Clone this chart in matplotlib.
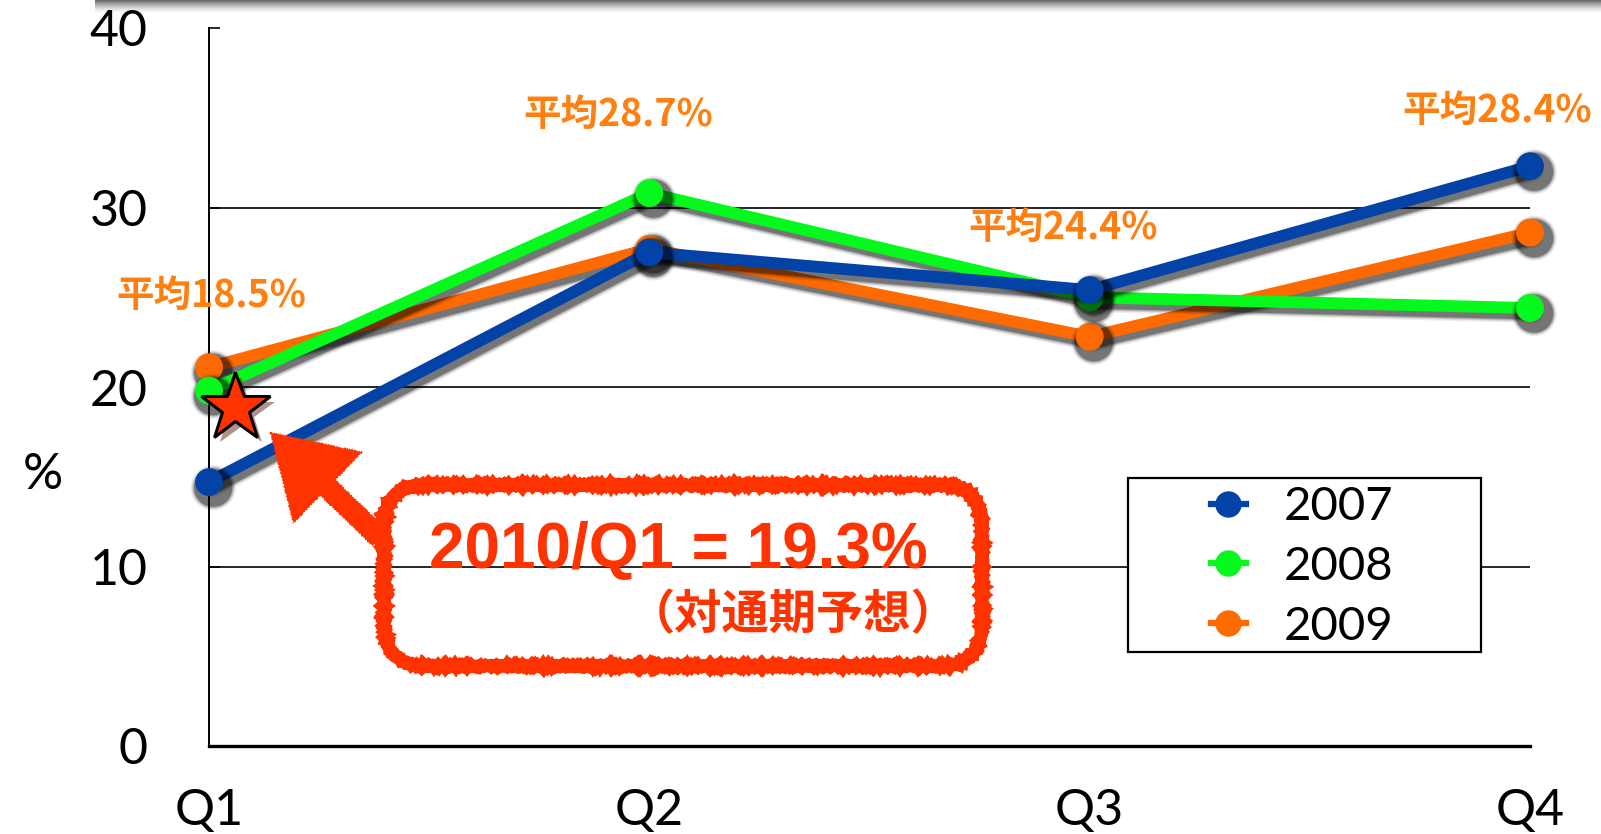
import numpy as np
import matplotlib
matplotlib.use("Agg")
import matplotlib.pyplot as plt
import matplotlib.patheffects as pe
from matplotlib.patches import FancyBboxPatch, FancyArrowPatch
from matplotlib.lines import Line2D
from matplotlib.transforms import IdentityTransform

# data
quarters = ["Q1", "Q2", "Q3", "Q4"]
years = ["2007", "2008", "2009"]
v2007 = [14.7, 27.5, 25.4, 32.3]
v2008 = [19.8, 30.8, 25.0, 24.4]
v2009 = [21.1, 27.7, 22.8, 28.6]
averages = ["平均18.5%", "平均28.7%", "平均24.4%", "平均28.4%"]
star_value = 19.3
star_label = "2010/Q1 = 19.3%"
star_note = "（対通期予想）"
yticks = [0, 10, 20, 30, 40]

W, H = 1601, 834
fig = plt.figure(figsize=(W / 100, H / 100), dpi=100)
ax = fig.add_axes([209 / W, 1 - 746 / H, (1530 - 209) / W, (746 - 28) / H])

plain = ["Lato", "DejaVu Sans"]
cjk = ["Noto Sans CJK JP", "DejaVu Sans"]

def px(x, y):
    # figure pixel from top-left
    return x, H - y

def shadow(lw):
    # a few widening copies give a soft dark shadow
    fx = []
    for extra, a in [(5, 0.08), (3, 0.12), (1.5, 0.18), (0, 0.3)]:
        fx.append(pe.SimpleLineShadow(offset=(3, -4), shadow_color="k", alpha=a,
                                      linewidth=lw + extra))
    fx.append(pe.Normal())
    return fx

x = np.arange(len(quarters))
colors = {"2007": "#0342a6", "2008": "#05f91c", "2009": "#ff6a00"}
series = {"2007": v2007, "2008": v2008, "2009": v2009}

for yr, z in zip(["2009", "2008", "2007"], [3, 4, 5]):
    ax.plot(x, series[yr], color=colors[yr], lw=8.5, marker="o", ms=19,
            solid_capstyle="round", clip_on=False, zorder=z,
            path_effects=shadow(8.5))

# star for 2010/Q1
ax.plot([0.06], [star_value - 0.45], marker="*", ms=52, color="#ff3300",
        mec="k", mew=2.2, clip_on=False, zorder=7,
        path_effects=[pe.SimplePatchShadow(offset=(4, -4), alpha=0.45), pe.Normal()])

for yv in yticks[1:-1]:
    ax.axhline(yv, color="k", lw=1.2, zorder=1)

ax.set_xlim(0, 3)
ax.set_ylim(0, 40)
ax.set_xticks(x)
ax.set_xticklabels(quarters)
ax.set_yticks(yticks)
ax.tick_params(axis="y", direction="in", length=8, width=1.2, pad=44, labelsize=36)
ax.tick_params(axis="x", length=0, pad=30, labelsize=36)
for lab in ax.get_xticklabels() + ax.get_yticklabels():
    lab.set_fontfamily(plain)
for s in ["top", "right"]:
    ax.spines[s].set_visible(False)
ax.spines["left"].set_linewidth(1.4)
ax.spines["bottom"].set_linewidth(2.4)

fig.text(43 / W, 1 - 475 / H, "%", ha="center", va="center", fontsize=36, family=plain)

# average labels
avg_pos = [(0.005, 25.1), (0.93, 35.2), (1.94, 28.9), (2.925, 35.4)]
for (ax_x, ax_y), t in zip(avg_pos, averages):
    ax.text(ax_x, ax_y, t, ha="center", va="center", fontsize=27,
            color="#ff7f10", fontweight="bold", family=cjk, zorder=8, clip_on=False)

# legend with its own frame
fx0, fy0 = px(1128, 652)
frame = FancyBboxPatch((fx0, fy0), 353, 174, boxstyle="square,pad=0",
                       transform=IdentityTransform(), fc="white", ec="k", lw=1.6,
                       zorder=6)
fig.patches.append(frame)
handles = [Line2D([], [], color=colors[y], lw=4.5, marker="o", ms=18) for y in years]
leg = fig.legend(handles, years, loc="center", bbox_to_anchor=px(1302, 567),
                 bbox_transform=IdentityTransform(), frameon=False,
                 handlelength=0.75, handletextpad=0.8, labelspacing=0.38,
                 prop={"family": plain, "size": 34})
leg.set_zorder(9)

# callout box
red = "#ff3300"
bx, by = px(384, 666)
box = FancyBboxPatch((bx, by), 598, 181, boxstyle="round,pad=0,rounding_size=42",
                     transform=IdentityTransform(), fc="none", ec=red, lw=9,
                     zorder=10)
box.set_sketch_params(scale=0.8, length=3, randomness=2)
fig.patches.append(box)

arrow = FancyArrowPatch(px(382, 540), px(268, 430), transform=IdentityTransform(),
                        arrowstyle="simple,head_length=5.8,head_width=7.2,tail_width=1.6",
                        mutation_scale=10, color=red, lw=0, zorder=10)
arrow.set_sketch_params(scale=0.8, length=3, randomness=2)
fig.patches.append(arrow)

fig.text(678 / W, 1 - 551 / H, star_label, ha="center", va="center", fontsize=46,
         color=red, fontweight="bold", family=["Liberation Sans", "DejaVu Sans"])
fig.text(958 / W, 1 - 615 / H, star_note, ha="right", va="center", fontsize=34,
         color=red, fontweight="bold", family=cjk)

# shadow band at the top edge
sh = fig.add_axes([95 / W, 1 - 14 / H, 1 - 95 / W, 14 / H])
grad = np.zeros((14, 1, 4))
grad[..., 3] = np.linspace(0.7, 0.0, 14)[:, None] ** 1.5
sh.imshow(grad, aspect="auto", extent=(0, 1, 0, 1))
sh.axis("off")

fig.savefig("out.png", dpi=100)
